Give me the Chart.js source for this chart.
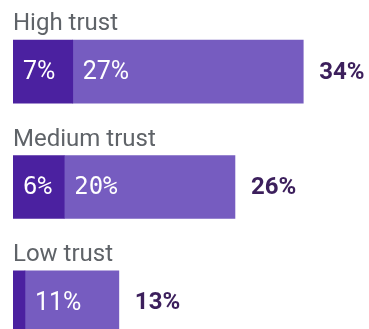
<!DOCTYPE html>
<html>
<head>
<meta charset="utf-8">
<script src="https://cdn.jsdelivr.net/npm/chart.js@4/dist/chart.umd.min.js"></script>
<style>
  html, body { margin: 0; padding: 0; background: #fff; overflow: hidden; }
  #wrap { position: relative; width: 369px; height: 360px; }
</style>
</head>
<body>
<div id="wrap"><canvas id="trustChart"></canvas></div>
<script>
/* ---------- Data ---------- */
const categories = ["High trust", "Medium trust", "Low trust"];
const coreShare = [7, 6, 1.4];
const otherShare = [27, 20, 11];
const totals = [34, 26, 13];

const DARK = "#4b21a0";
const LIGHT = "#765cc0";
const TOTAL_COLOR = "#3c1f5c";
const LABEL_COLOR = "#5f6368";

// row 2 prints its numbers in a mono face
const valueFonts = ["25px Roboto", "24px 'DejaVu Sans Mono'", "25px Roboto"];

/* ---------- Labels plugin ---------- */
const barLabels = {
  id: "barLabels",
  afterDatasetsDraw(chart) {
    const ctx = chart.ctx;
    const area = chart.chartArea;
    const x = chart.scales.x;
    ctx.save();
    ctx.textAlign = "left";

    categories.forEach((name, i) => {
      const bar = chart.getDatasetMeta(0).data[i];
      const top = bar.y - bar.height / 2;

      // category title above the bar
      ctx.fillStyle = LABEL_COLOR;
      ctx.font = "24px Roboto";
      ctx.textBaseline = "alphabetic";
      ctx.fillText(name, area.left, top - 10);
      ctx.textBaseline = "middle";

      // segment values
      chart.data.datasets.forEach((ds, d) => {
        const el = chart.getDatasetMeta(d).data[i];
        const w = el.x - el.base;
        if (w < 30) return;
        ctx.fillStyle = "#ffffff";
        ctx.font = valueFonts[i];
        ctx.fillText(ds.data[i] + "%", el.base + 10, el.y + 1);
      });

      // total at the end
      const end = x.getPixelForValue(coreShare[i] + otherShare[i]);
      ctx.fillStyle = TOTAL_COLOR;
      ctx.font = "bold 24px Roboto";
      ctx.fillText(totals[i] + "%", end + 16, bar.y + 1);
    });
    ctx.restore();
  }
};

/* ---------- Chart ---------- */
new Chart(document.getElementById("trustChart"), {
  type: "bar",
  data: {
    labels: categories,
    datasets: [
      {label: "Core", data: coreShare, backgroundColor: DARK, barThickness: 63},
      {label: "Other", data: otherShare, backgroundColor: LIGHT, barThickness: 63}
    ]
  },
  options: {
    indexAxis: "y",
    responsive: true,
    maintainAspectRatio: false,
    animation: false,
    layout: { padding: {left: 13, right: 0, top: 14, bottom: 0} },
    plugins: {
      legend: { display: false },
      tooltip: { enabled: false }
    },
    scales: {
      x: { stacked: true, min: 0, max: 41.7, display: false },
      y: { stacked: true, display: false }
    }
  },
  plugins: [barLabels]
});
</script>
</body>
</html>
